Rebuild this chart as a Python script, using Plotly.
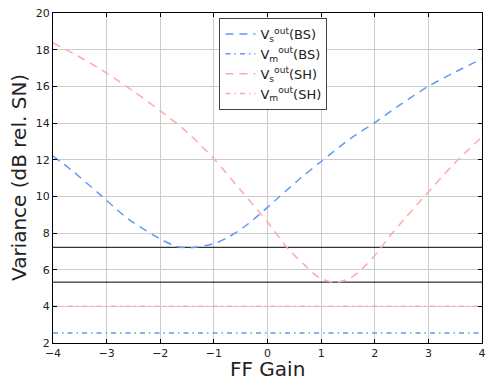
import plotly.graph_objects as go

# Data
bs_x = [-4.0, -3.66, -3.1, -2.6, -2.0, -1.7, -1.42, -1.0, -0.73, -0.45, -0.14, 0.0,
        0.62, 1.0, 1.56, 2.0, 2.49, 3.0, 3.48, 4.0]
bs_s = [12.2, 11.44, 10.04, 8.77, 7.68, 7.27, 7.2, 7.42, 7.78, 8.3, 9.04, 9.4,
        11.0, 11.9, 13.18, 14.02, 15.03, 16.0, 16.75, 17.5]
sh_x = [-4.0, -3.5, -3.0, -2.5, -2.0, -1.5, -1.0, -0.5, 0.0, 0.4, 0.69, 0.93, 1.25,
        1.56, 1.84, 2.06, 2.27, 2.55, 2.92, 3.48, 4.0]
sh_s = [18.37, 17.6, 16.72, 15.73, 14.67, 13.5, 12.05, 10.33, 8.6, 7.08, 6.26, 5.63, 5.3,
        5.57, 6.26, 6.98, 7.8, 8.75, 9.98, 11.78, 13.25]
bs_m = 2.55
sh_m = 4.0
min_bs = 7.22
min_sh = 5.32
x_range = [-4, 4]
y_range = [2, 20]
x_ticks = [-4, -3, -2, -1, 0, 1, 2, 3, 4]
y_ticks = [2, 4, 6, 8, 10, 12, 14, 16, 18, 20]

blue = '#5f9af5'
pink = '#ffaaaa'
dash = '8px,6px'
dashdot = '5px,4px,1.5px,4px'

fig = go.Figure()
for v in [min_bs, min_sh]:
    fig.add_trace(go.Scatter(x=x_range, y=[v, v], mode='lines', line=dict(color='black', width=1),
                             showlegend=False, hoverinfo='skip'))
fig.add_trace(go.Scatter(x=bs_x, y=bs_s, mode='lines',
                         line=dict(color=blue, width=1.5, dash=dash, shape='spline', smoothing=0.8),
                         name='V<sub>s</sub><sup>out</sup>(BS)'))
fig.add_trace(go.Scatter(x=x_range, y=[bs_m, bs_m], mode='lines', line=dict(color=blue, width=1.5, dash=dashdot),
                         name='V<sub>m</sub><sup>out</sup>(BS)'))
fig.add_trace(go.Scatter(x=sh_x, y=sh_s, mode='lines',
                         line=dict(color=pink, width=1.5, dash=dash, shape='spline', smoothing=0.8),
                         name='V<sub>s</sub><sup>out</sup>(SH)'))
fig.add_trace(go.Scatter(x=x_range, y=[sh_m, sh_m], mode='lines', line=dict(color=pink, width=1.5, dash=dashdot),
                         name='V<sub>m</sub><sup>out</sup>(SH)'))

axis_common = dict(showgrid=True, gridcolor='#cccccc', gridwidth=1, zeroline=False,
                   showline=True, linecolor='black', linewidth=1, mirror='ticks',
                   ticks='inside', ticklen=4, tickcolor='black', automargin=False,
                   ticklabeloverflow='allow',
                   tickfont=dict(family='DejaVu Sans', size=11, color='#222222'))

fig.update_xaxes(range=x_range, tickvals=x_ticks, **axis_common)
fig.update_yaxes(range=y_range, tickvals=y_ticks, **axis_common)

# page body has an 8px default margin, so the figure is sized/offset to compensate
fig.update_layout(
    width=490, height=373,
    margin=dict(l=45, r=16, t=5, b=38),
    plot_bgcolor='white', paper_bgcolor='white',
    font=dict(family='DejaVu Sans', color='#222222'),
    legend=dict(x=0.388, y=0.985, xanchor='left', yanchor='top', bgcolor='white',
                bordercolor='#444444', borderwidth=1, font=dict(size=13, family='DejaVu Sans'),
                tracegroupgap=0, itemwidth=30),
    showlegend=True,
    annotations=[
        dict(text='FF Gain', xref='paper', yref='paper', x=0.5, y=-0.0, yshift=-26,
             xanchor='center', yanchor='middle', showarrow=False,
             font=dict(size=20, family='DejaVu Sans', color='#222222')),
        dict(text='Variance (dB rel. SN)', xref='paper', yref='paper', x=0, y=0.5, xshift=-34,
             xanchor='center', yanchor='middle', textangle=-90, showarrow=False,
             font=dict(size=20, family='DejaVu Sans', color='#222222')),
    ],
)

fig.write_html('out.html')
